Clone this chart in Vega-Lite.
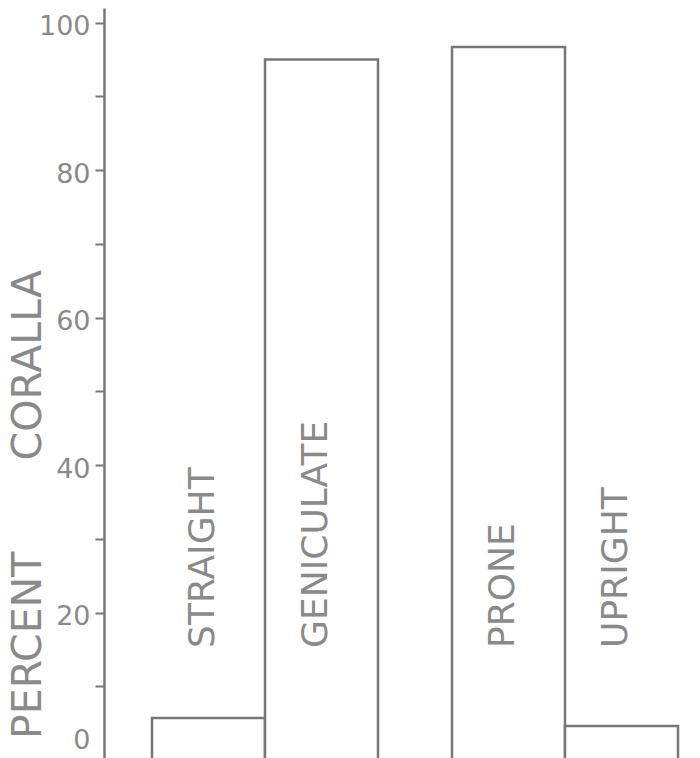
{
  "$schema": "https://vega.github.io/schema/vega-lite/v6.json",
  "padding": {"left": 6, "top": 8, "right": 0, "bottom": 0},
  "background": "white",
  "data": {
    "values": [
      {"trait": "branching", "form": "STRAIGHT", "percent": 5.7},
      {"trait": "branching", "form": "GENICULATE", "percent": 95.0},
      {"trait": "habit", "form": "PRONE", "percent": 96.7},
      {"trait": "habit", "form": "UPRIGHT", "percent": 4.6}
    ]
  },
  "facet": {
    "column": {
      "field": "trait",
      "type": "nominal",
      "sort": ["branching", "habit"],
      "header": {"title": null, "labels": false}
    }
  },
  "spacing": 24,
  "resolve": {"scale": {"x": "independent"}},
  "spec": {
    "width": 274,
    "height": 752,
    "layer": [
      {
        "mark": {"type": "bar", "fill": "white", "stroke": "#777777", "strokeWidth": 2.5},
        "encoding": {
          "x": {
            "field": "form",
            "type": "nominal",
            "sort": null,
            "axis": null,
            "scale": {"paddingInner": 0, "paddingOuter": 0.2124, "align": 1}
          },
          "y": {
            "field": "percent",
            "type": "quantitative",
            "scale": {"domain": [0, 102], "nice": false},
            "axis": {
              "values": [0, 10, 20, 30, 40, 50, 60, 70, 80, 90, 100],
              "labelExpr": "datum.value % 20 === 0 ? datum.label : ''",
              "title": "PERCENT\u00a0\u00a0\u00a0\u00a0\u00a0\u00a0\u00a0CORALLA",
              "titleFont": "DejaVu Sans",
              "titleFontSize": 41,
              "titleFontWeight": "normal",
              "titleColor": "#8a8a8a",
              "titleAngle": 270,
              "titleAlign": "center",
              "titleBaseline": "middle",
              "titleX": -76,
              "titleY": 496,
              "labelFont": "DejaVu Sans",
              "labelFontSize": 27,
              "labelColor": "#8a8a8a",
              "labelPadding": 5,
              "labelOffset": 4,
              "labelOverlap": false,
              "labelFlush": true,
              "labelFlushOffset": -10,
              "tickSize": 9,
              "tickColor": "#777777",
              "tickWidth": 2,
              "domainColor": "#777777",
              "domainWidth": 2.5,
              "grid": false
            }
          }
        }
      },
      {
        "mark": {
          "type": "text",
          "angle": 270,
          "align": "left",
          "baseline": "middle",
          "dy": -6,
          "font": "DejaVu Sans",
          "fontSize": 36,
          "fill": "#8a8a8a"
        },
        "encoding": {
          "x": {"field": "form", "type": "nominal", "sort": null},
          "y": {"datum": 15.2},
          "text": {"field": "form"}
        }
      }
    ]
  },
  "config": {"view": {"stroke": null}}
}
